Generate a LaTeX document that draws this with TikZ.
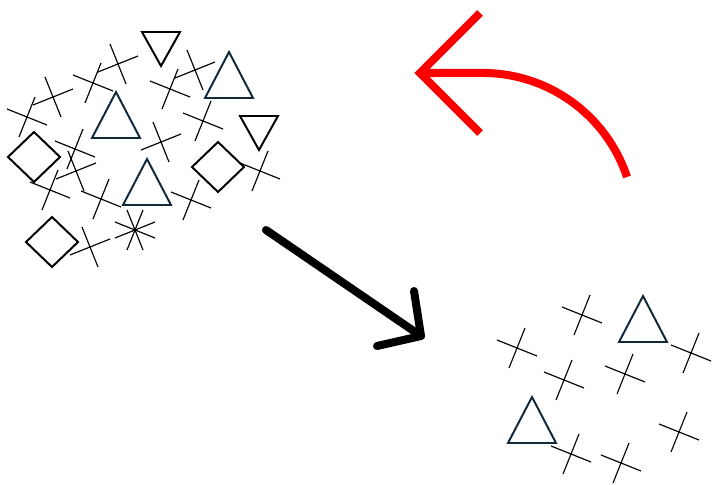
\documentclass[tikz,border=0pt]{standalone}
\usepackage{tikz}

\definecolor{navy}{RGB}{16,42,58}
\tikzset{
  crossline/.style={line width=0.8pt},
  shapeline/.style={line width=1.4pt, line join=miter},
  crossd/.pic={\draw[crossline] (-20,-8) -- (20,8) (8,-20) -- (-8,20);},
  crossu/.pic={\draw[crossline] (-20,8) -- (20,-8) (-8,-20) -- (8,20);},
  uptri/.pic={\draw[shapeline,navy] (0,-23) -- (24,23) -- (-24,23) -- cycle;},
  downtri/.pic={\draw[shapeline] (-19,-17) -- (19,-17) -- (0,17) -- cycle;},
  diam/.pic={\draw[shapeline] (-26,0) -- (0,-25) -- (26,0) -- (0,25) -- cycle;},
}

\begin{document}
\begin{tikzpicture}[x=0.025cm,y=-0.025cm]
\useasboundingbox (0,0) rectangle (715,485);
% first cluster
\pic at (27,117) {crossd};
\pic at (53,97) {crossu};
\pic at (93,83) {crossd};
\pic at (118,64) {crossu};
\pic at (170,89) {crossd};
\pic at (195,70) {crossu};
\pic at (203,121) {crossd};
\pic at (161,142) {crossu};
\pic at (75,149) {crossd};
\pic at (76,171) {crossu};
\pic at (50,190) {crossd};
\pic at (101,199) {crossd};
\pic at (191,200) {crossd};
\pic at (260,171) {crossd};
\pic at (90,247) {crossu};
\pic at (135,230) {crossd};
\pic at (135,230) {crossu};
\pic at (116,115) {uptri};
\pic at (229,75) {uptri};
\pic at (147,182) {uptri};
\pic at (161,49) {downtri};
\pic at (259,133) {downtri};
\pic at (34,157) {diam};
\pic at (218,167) {diam};
\pic at (52,242) {diam};
% second cluster
\pic at (582,315) {crossd};
\pic at (517,348) {crossd};
\pic at (564,380) {crossd};
\pic at (625,374) {crossd};
\pic at (691,353) {crossd};
\pic at (679,432) {crossd};
\pic at (571,454) {crossd};
\pic at (621,463) {crossd};
\pic at (643,319) {uptri};
\pic at (532,420) {uptri};
% arrows
\coordinate (fwdstart) at (266,230);
\coordinate (fwdtip) at (421,336);
\coordinate (backstart) at (627,177);
\coordinate (backtip) at (420,73);
\draw[line width=5.7pt, line cap=round, line join=round] (fwdstart) -- (fwdtip);
\draw[line width=5.7pt, line cap=round, line join=round] (414,291) -- (fwdtip) -- (377,346);
\draw[red, line width=5.7pt] (backstart) arc[start angle=-18.4, end angle=-90, radius=152] -- (backtip);
\draw[red, line width=5.7pt, line join=miter] (480,13) -- (backtip) -- (480,133);
\end{tikzpicture}
\end{document}
